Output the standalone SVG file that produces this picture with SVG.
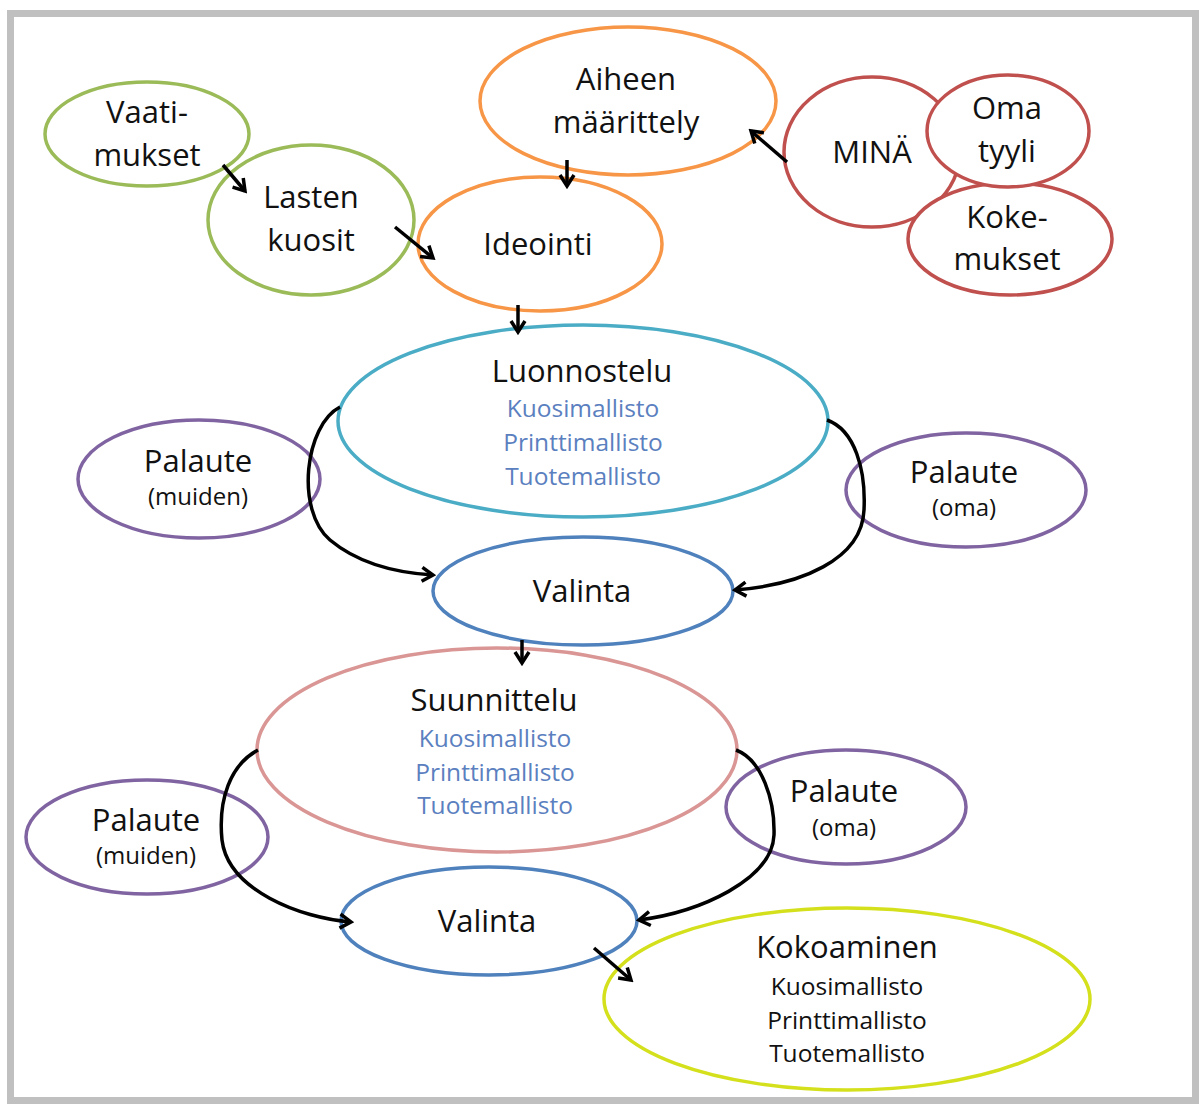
<svg xmlns="http://www.w3.org/2000/svg" width="1199" height="1104" viewBox="0 0 1199 1104">
<defs>
<style>
.n{fill:#ffffff;stroke-width:3.5}
.t{font-family:"Open Sans","Liberation Sans",sans-serif;font-size:31px;fill:#111;text-anchor:middle}
.s{font-family:"Open Sans","Liberation Sans",sans-serif;font-size:24.5px;fill:#5b80c0;text-anchor:middle}
.k{font-family:"Open Sans","Liberation Sans",sans-serif;font-size:24.5px;fill:#111;text-anchor:middle}
.p{font-family:"Open Sans","Liberation Sans",sans-serif;font-size:24px;fill:#111;text-anchor:middle}
.c{fill:none;stroke:#000;stroke-width:3.5;marker-end:url(#ah)}
.green{stroke:#9bbb59}.orange{stroke:#f79646}.red{stroke:#c0504d}.teal{stroke:#4bacc6}
.purple{stroke:#8064a2}.blue{stroke:#4f81bd}.pink{stroke:#d99694}.yellow{stroke:#d4e01c}
</style>
<marker id="ah" markerUnits="userSpaceOnUse" markerWidth="18" markerHeight="18" viewBox="0 0 18 18" refX="15" refY="9" orient="auto">
<path d="M4,2 L15,9 L4,16" fill="none" stroke="#000" stroke-width="3.5"/>
</marker>
</defs>
<rect x="0" y="0" width="1199" height="1104" fill="#fff"/>
<rect x="10.5" y="13.5" width="1185" height="1087" fill="#fff" stroke="#c0c0c0" stroke-width="7"/>

<g id="vaatimukset"><ellipse class="n green" cx="147" cy="134" rx="102" ry="52" fill="none" style="fill:none"/><text class="t" x="147" y="123">Vaati-</text><text class="t" x="147" y="166">mukset</text></g>
<g id="lasten"><ellipse class="n green" cx="311" cy="220" rx="103" ry="75" style="fill:none"/><text class="t" x="311" y="208">Lasten</text><text class="t" x="311" y="251">kuosit</text></g>
<g id="aiheen"><ellipse class="n orange" cx="628" cy="101" rx="148" ry="74"/><text class="t" x="626" y="90">Aiheen</text><text class="t" x="626" y="133">määrittely</text></g>
<g id="ideointi"><ellipse class="n orange" cx="540" cy="244" rx="122" ry="67"/><text class="t" x="538" y="255">Ideointi</text></g>
<g id="mina"><ellipse class="n red" cx="872" cy="152" rx="88" ry="75"/><text class="t" x="872" y="163">MINÄ</text></g>
<g id="kokemukset"><ellipse class="n red" cx="1010" cy="239" rx="102" ry="56"/><text class="t" x="1007" y="228">Koke-</text><text class="t" x="1007" y="270">mukset</text></g>
<g id="omatyyli"><ellipse class="n red" cx="1008" cy="131" rx="81" ry="56"/><text class="t" x="1007" y="119">Oma</text><text class="t" x="1007" y="162">tyyli</text></g>

<g id="luonnostelu"><ellipse class="n teal" cx="583" cy="421" rx="245" ry="96"/><text class="t" x="582" y="382">Luonnostelu</text><text class="s" x="583" y="417">Kuosimallisto</text><text class="s" x="583" y="451">Printtimallisto</text><text class="s" x="583" y="485">Tuotemallisto</text></g>
<g id="palaute1"><ellipse class="n purple" cx="199" cy="479" rx="121" ry="59"/><text class="t" x="198" y="472">Palaute</text><text class="p" x="198" y="505">(muiden)</text></g>
<g id="palaute2"><ellipse class="n purple" cx="966" cy="490" rx="120" ry="57"/><text class="t" x="964" y="483">Palaute</text><text class="p" x="964" y="516">(oma)</text></g>
<g id="valinta1"><ellipse class="n blue" cx="583" cy="591" rx="150" ry="54"/><text class="t" x="582" y="602">Valinta</text></g>

<g id="suunnittelu"><ellipse class="n pink" cx="497" cy="750" rx="240" ry="102"/><text class="t" x="494" y="711">Suunnittelu</text><text class="s" x="495" y="747">Kuosimallisto</text><text class="s" x="495" y="781">Printtimallisto</text><text class="s" x="495" y="814">Tuotemallisto</text></g>
<g id="palaute3"><ellipse class="n purple" cx="147" cy="837" rx="121" ry="57"/><text class="t" x="146" y="831">Palaute</text><text class="p" x="146" y="864">(muiden)</text></g>
<g id="palaute4"><ellipse class="n purple" cx="846" cy="807" rx="120" ry="57"/><text class="t" x="844" y="802">Palaute</text><text class="p" x="844" y="836">(oma)</text></g>
<g id="valinta2"><ellipse class="n blue" cx="489" cy="921" rx="148" ry="54"/><text class="t" x="487" y="932">Valinta</text></g>
<g id="kokoaminen"><ellipse class="n yellow" cx="847" cy="999" rx="243" ry="91"/><text class="t" x="847" y="958">Kokoaminen</text><text class="k" x="847" y="995">Kuosimallisto</text><text class="k" x="847" y="1029">Printtimallisto</text><text class="k" x="847" y="1062">Tuotemallisto</text></g>

<g id="connectors">
<path class="c" d="M223,165 L245,191"/>
<path class="c" d="M395,227 L433,258"/>
<path class="c" d="M567,160 L567,186"/>
<path class="c" d="M787,162 L751,131"/>
<path class="c" d="M518,305 L518,332"/>
<path class="c" d="M340,407 C305,425 295,510 330,540 C360,565 400,573 433,575"/>
<path class="c" d="M827,420 C855,430 866,470 864,510 C862,560 800,585 735,590"/>
<path class="c" d="M522,640 L522,663"/>
<path class="c" d="M258,750 C230,765 218,800 222,840 C228,890 300,918 351,922"/>
<path class="c" d="M736,750 C762,760 775,800 774,835 C772,880 700,912 639,920"/>
<path class="c" d="M594,948 L631,980"/>
</g>
</svg>
